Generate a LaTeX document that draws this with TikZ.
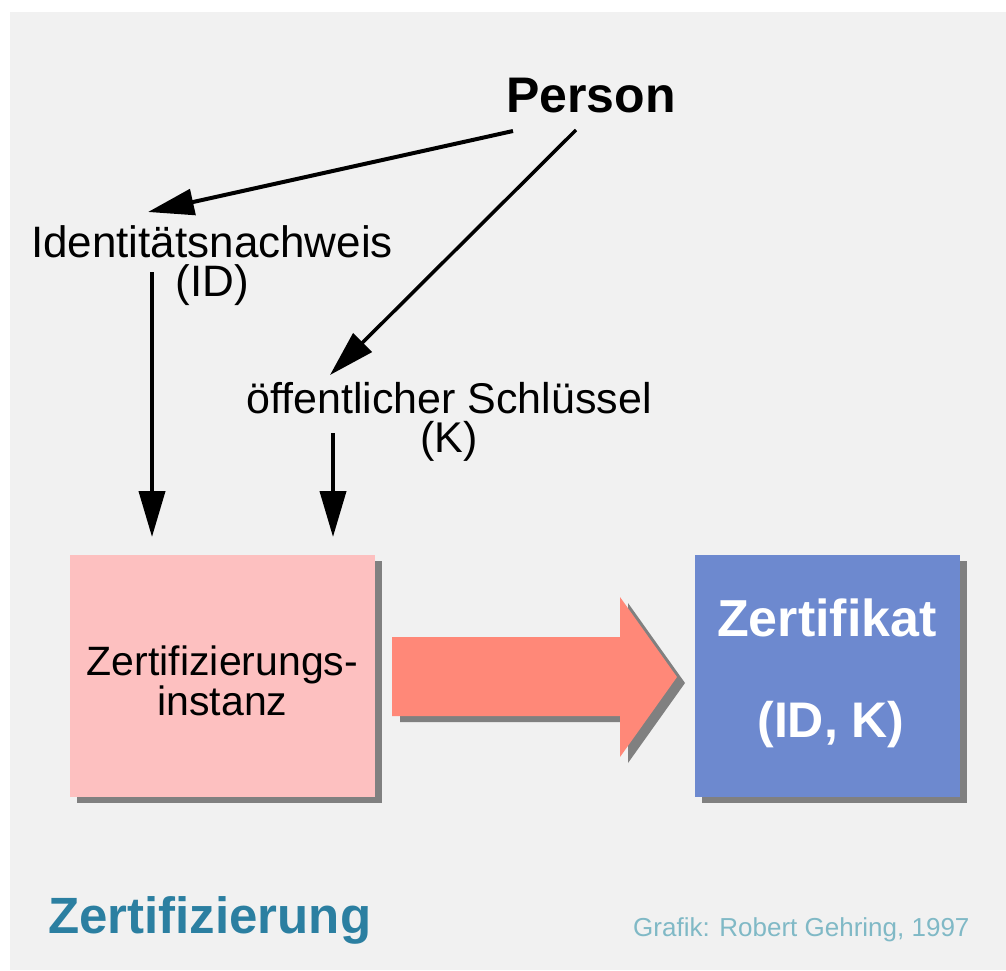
\documentclass[tikz,border=0pt]{standalone}
\usepackage{fontspec}
\setmainfont{Liberation Sans}
\usetikzlibrary{arrows.meta}

\definecolor{panel}{HTML}{F1F1F1}
\definecolor{pinkbox}{HTML}{FDC0C0}
\definecolor{bluebox}{HTML}{6D89CF}
\definecolor{flowarrow}{HTML}{FF8878}
\definecolor{shade}{HTML}{808080}
\definecolor{titleblue}{HTML}{2B7FA1}
\definecolor{creditblue}{HTML}{80B9C6}

\tikzset{
  label text/.style={inner sep=0pt, align=center, font=\fontsize{43}{39}\selectfont},
  link/.style={line width=4pt, -{Triangle[length=46pt, width=26pt]}},
  shadowfill/.style={fill=shade, draw=none},
}

\begin{document}
\begin{tikzpicture}[x=1pt, y=-1pt]
  % page and panel
  \useasboundingbox (0,0) rectangle (1006,970);
  \fill[white] (0,0) rectangle (1006,970);
  \fill[panel] (10,12) rectangle (1006,970);

  % text labels (multi-line nodes sit on the baseline of their last line)
  \node[inner sep=0pt, anchor=base, font=\fontsize{50}{50}\selectfont\bfseries] (person) at (591,112) {Person};
  \node[label text, anchor=base, font=\fontsize{44}{39}\selectfont] (id) at (212,296) {Identitätsnachweis\\(ID)};
  \node[label text, anchor=base] (key) at (449,452) {öffentlicher Schlüssel\\(K)};

  % arrow end points
  \coordinate (p1) at (513,131);
  \coordinate (p2) at (576,130);
  \coordinate (idtip) at (148,212);
  \coordinate (keytip) at (330,375);
  \coordinate (idfoot) at (152,272);
  \coordinate (keyfoot) at (333,433);
  \coordinate (inA) at (152,537);
  \coordinate (inB) at (333,537);

  \draw[link] (p1) -- (idtip);
  \draw[link, line width=3.5pt] (p2) -- (keytip);
  \draw[link] (idfoot) -- (inA);
  \draw[link] (keyfoot) -- (inB);

  % certification authority box
  \fill[shadowfill] (77,561) rectangle (382,803);
  \node[fill=pinkbox, minimum width=305pt, minimum height=242pt, inner sep=0pt, anchor=north west] (ca) at (70,555) {};
  \node[label text, anchor=base, font=\fontsize{41}{40}\selectfont] (catext) at (222.5,715) {Zertifizierungs-\\instanz};

  % big flow arrow
  \fill[shadowfill] (400,643) -- (628,643) -- (628,603) -- (685,683) -- (628,763) -- (628,722) -- (400,722) -- cycle;
  \fill[flowarrow] (392,637) -- (620,637) -- (620,597) -- (677,677) -- (620,757) -- (620,716) -- (392,716) -- cycle;

  % certificate box
  \fill[shadowfill] (702,561) rectangle (967,803);
  \node[fill=bluebox, minimum width=265pt, minimum height=242pt, inner sep=0pt, anchor=north west] (cert) at (695,555) {};
  \node[inner sep=0pt, anchor=base, text=white, font=\fontsize{52}{52}\selectfont\bfseries] (certtitle) at (827,636) {Zertifikat};
  \node[inner sep=0pt, anchor=base, text=white, font=\fontsize{50}{50}\selectfont\bfseries] (certpair) at (831,737) {(ID, K)};

  % captions
  \node[inner sep=0pt, anchor=base west, text=titleblue, font=\fontsize{51}{51}\selectfont\bfseries] (title) at (48,933) {Zertifizierung};
  \node[inner sep=0pt, anchor=base west, text=creditblue, font=\fontsize{26}{26}\selectfont] (credit) at (633,936) {Grafik: Robert Gehring, 1997};
\end{tikzpicture}
\end{document}
